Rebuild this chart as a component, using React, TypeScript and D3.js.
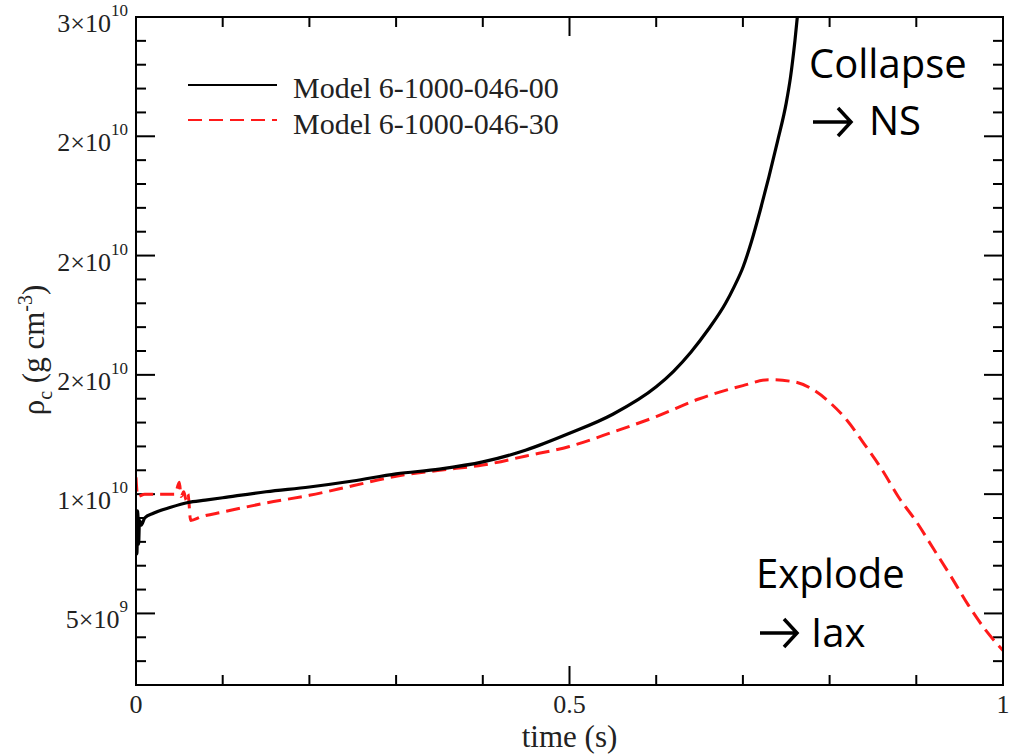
import React from "react";
import * as d3 from "d3";

// ---- data (time in s, central density in units of 1e9 g/cm^3) ----
const blackTime = [0, 0.001, 0.002, 0.003, 0.004, 0.006, 0.01, 0.02, 0.04, 0.06, 0.08, 0.1, 0.15, 0.2, 0.25, 0.3, 0.35, 0.4, 0.45, 0.5, 0.55, 0.6, 0.62, 0.64, 0.66, 0.68, 0.69, 0.7, 0.71, 0.72, 0.73, 0.74, 0.75, 0.755, 0.76, 0.765];
const blackRho = [8.6, 7.5, 9.3, 7.9, 8.9, 8.7, 9.0, 9.2, 9.45, 9.65, 9.75, 9.85, 10.1, 10.3, 10.55, 10.85, 11.05, 11.35, 11.85, 12.55, 13.35, 14.5, 15.15, 15.95, 16.9, 18.0, 18.7, 19.5, 20.6, 21.9, 23.3, 24.8, 26.4, 27.5, 29.0, 30.8];

const redTime = [0, 0.002, 0.01, 0.03, 0.045, 0.05, 0.052, 0.055, 0.058, 0.06, 0.063, 0.075, 0.1, 0.15, 0.2, 0.25, 0.3, 0.35, 0.4, 0.45, 0.5, 0.55, 0.6, 0.65, 0.7, 0.73, 0.76, 0.78, 0.8, 0.82, 0.84, 0.86, 0.88, 0.9, 0.92, 0.94, 0.96, 0.98, 1.0];
const redRho = [10.7, 9.9, 10.0, 10.0, 10.0, 10.5, 9.9, 10.1, 9.75, 10.0, 8.9, 9.05, 9.25, 9.63, 9.95, 10.35, 10.75, 11.0, 11.22, 11.6, 12.0, 12.6, 13.25, 14.0, 14.55, 14.8, 14.7, 14.4, 13.85, 13.1, 12.1, 11.05, 9.85, 8.85, 7.7, 6.55, 5.35, 4.3, 3.45];

const seriesNames = ["Model 6-1000-046-00", "Model 6-1000-046-30"];

const yMajorTicks = [5, 10, 15, 20, 25, 30];
const yTickMantissa = ["5", "1", "2", "2", "2", "3"];
const yTickExponent = ["9", "10", "10", "10", "10", "10"];
const yMinorTicks = [3, 4, 6, 7, 8, 9, 11, 12, 13, 14, 16, 17, 18, 19, 21, 22, 23, 24, 26, 27, 28, 29];

const xMajorTicks = [0, 0.5, 1];
const xTickLabels = ["0", "0.5", "1"];
const xMinorTicks = [0.1, 0.2, 0.3, 0.4, 0.6, 0.7, 0.8, 0.9];

const annotations = [
  { line1: "Collapse", line2: "NS" },
  { line1: "Explode", line2: "Iax" },
];

export default function App() {
  const W = 1010, H = 756;
  const L = 136, R = 1003, T = 17, B = 685;
  const x = d3.scaleLinear().domain([0, 1]).range([L, R]);
  const y = d3.scaleLinear().domain([2, 30]).range([B, T]);
  const line = d3.line<[number, number]>().x(d => x(d[0])).y(d => y(d[1])).curve(d3.curveMonotoneX);
  const blackPts = blackTime.map((t, i) => [t, blackRho[i]] as [number, number]);
  const redPts = redTime.map((t, i) => [t, redRho[i]] as [number, number]);
  const serif = "'Liberation Serif', 'Times New Roman', serif";
  const sans = "'Open Sans', 'Noto Sans', sans-serif";
  const majorLen = 19, minorLen = 10;

  const arrow = (x0: number, x1: number, yc: number) =>
    `M${x0},${yc} L${x1},${yc} M${x1 - 13},${yc - 14} L${x1},${yc} L${x1 - 13},${yc + 14}`;

  return (
    <svg width={W} height={H} style={{ position: "absolute", left: 0, top: 0, background: "#fff" }}>
      <defs>
        <clipPath id="plotClip">
          <rect x={L} y={T} width={R - L} height={B - T} />
        </clipPath>
      </defs>

      {/* ticks */}
      <g stroke="#000" strokeWidth={2}>
        {yMajorTicks.map(v => (
          <g key={"ym" + v}>
            <line x1={L} x2={L + majorLen} y1={y(v)} y2={y(v)} />
            <line x1={R} x2={R - majorLen} y1={y(v)} y2={y(v)} />
          </g>
        ))}
        {yMinorTicks.map(v => (
          <g key={"yn" + v}>
            <line x1={L} x2={L + minorLen} y1={y(v)} y2={y(v)} />
            <line x1={R} x2={R - minorLen} y1={y(v)} y2={y(v)} />
          </g>
        ))}
        {xMajorTicks.map(v => (
          <g key={"xm" + v}>
            <line x1={x(v)} x2={x(v)} y1={B} y2={B - majorLen} />
            <line x1={x(v)} x2={x(v)} y1={T} y2={T + majorLen} />
          </g>
        ))}
        {xMinorTicks.map(v => (
          <g key={"xn" + v}>
            <line x1={x(v)} x2={x(v)} y1={B} y2={B - minorLen} />
            <line x1={x(v)} x2={x(v)} y1={T} y2={T + minorLen} />
          </g>
        ))}
      </g>

      {/* series */}
      <g clipPath="url(#plotClip)" fill="none" strokeLinejoin="round">
        <path d={line(redPts) || ""} stroke="#ff1a1a" strokeWidth={3} strokeDasharray="14,7" />
        <path d={line(blackPts) || ""} stroke="#000" strokeWidth={3.2} />
      </g>

      {/* frame */}
      <rect x={L} y={T} width={R - L} height={B - T} fill="none" stroke="#000" strokeWidth={2} />

      {/* y tick labels */}
      <g fontFamily={serif} fill="#222">
        {yMajorTicks.map((v, i) => (
          <text key={"yl" + v} x={128} y={y(v) + 15} textAnchor="end" fontSize={26}>
            {yTickMantissa[i]}×10
            <tspan fontSize={17} dy={-16}>{yTickExponent[i]}</tspan>
          </text>
        ))}
      </g>

      {/* x tick labels */}
      <g fontFamily={serif} fill="#222" fontSize={26} textAnchor="middle">
        {xMajorTicks.map((v, i) => (
          <text key={"xl" + v} x={x(v)} y={713}>{xTickLabels[i]}</text>
        ))}
      </g>

      {/* axis titles */}
      <text x={(L + R) / 2} y={747} textAnchor="middle" fontFamily={serif} fontSize={31} fill="#222">time (s)</text>
      <text transform="translate(44,350) rotate(-90)" textAnchor="middle" fontFamily={serif} fontSize={31} fill="#222">
        ρ<tspan fontSize={20} dy={8}>c</tspan>
        <tspan dy={-8}> (g cm</tspan>
        <tspan fontSize={20} dy={-12}>-3</tspan>
        <tspan dy={12}>)</tspan>
      </text>

      {/* legend */}
      <g fontFamily={serif} fontSize={30} fill="#222">
        <line x1={188} x2={277} y1={85} y2={85} stroke="#000" strokeWidth={2} />
        <text x={293} y={98}>{seriesNames[0]}</text>
        <line x1={188} x2={277} y1={120} y2={120} stroke="#ff1a1a" strokeWidth={2} strokeDasharray="14,7" />
        <text x={293} y={134}>{seriesNames[1]}</text>
      </g>

      {/* annotations */}
      <g fontFamily={sans} fontSize={40} fill="#000">
        <text x={809} y={78}>{annotations[0].line1}</text>
        <text x={869} y={135}>{annotations[0].line2}</text>
        <text x={756} y={588}>{annotations[1].line1}</text>
        <text x={811} y={647}>{annotations[1].line2}</text>
      </g>
      <g fill="none" stroke="#000" strokeWidth={3.5}>
        <path d={arrow(813, 851, 122)} />
        <path d={arrow(760, 797, 633)} />
      </g>
    </svg>
  );
}
